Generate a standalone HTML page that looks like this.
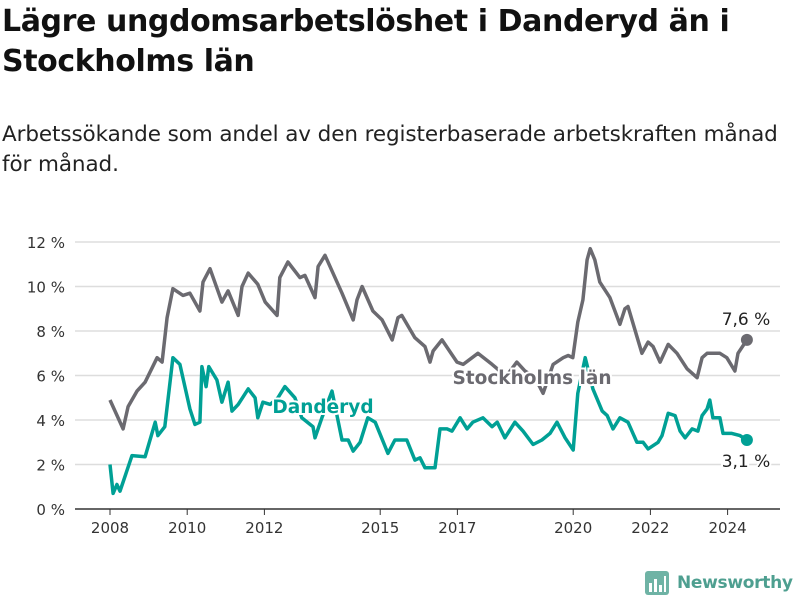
<!DOCTYPE html>
<html><head><meta charset="utf-8"><style>
body{margin:0;background:#fff;width:800px;height:600px;overflow:hidden;font-family:"Liberation Sans","DejaVu Sans",sans-serif;}
h1{position:absolute;left:2px;top:2px;margin:0;font-size:30px;line-height:40px;font-weight:bold;color:#111;font-family:"DejaVu Sans",sans-serif;letter-spacing:-0.4px;}
p{position:absolute;left:2px;top:120px;margin:0;font-size:21.5px;line-height:30px;color:#222;font-family:"DejaVu Sans",sans-serif;letter-spacing:-0.1px;}
svg{position:absolute;left:0;top:0}
</style></head><body>
<h1>Lägre ungdomsarbetslöshet i Danderyd än i<br>Stockholms län</h1>
<p>Arbetssökande som andel av den registerbaserade arbetskraften månad<br>för månad.</p>
<svg id="c" width="800" height="600"></svg>
<script>
const yTicks=[0,2,4,6,8,10,12];
const xTicks=[2008,2010,2012,2015,2017,2020,2022,2024];
const sthlmT=[2008,2008.34,2008.47,2008.70,2008.91,2009.22,2009.35,2009.48,2009.63,2009.89,2010.07,2010.33,2010.41,2010.59,2010.90,2011.06,2011.32,2011.42,2011.58,2011.83,2012.02,2012.33,2012.40,2012.61,2012.92,2013.05,2013.31,2013.39,2013.57,2014.01,2014.30,2014.40,2014.53,2014.81,2015.05,2015.31,2015.46,2015.56,2015.90,2016.16,2016.29,2016.37,2016.60,2016.99,2017.15,2017.53,2017.90,2018.10,2018.28,2018.54,2018.75,2019.01,2019.22,2019.48,2019.74,2019.87,2019.99,2020.12,2020.25,2020.36,2020.44,2020.56,2020.69,2020.95,2021.21,2021.34,2021.42,2021.78,2021.94,2022.07,2022.25,2022.46,2022.69,2022.95,2023.21,2023.34,2023.47,2023.80,2023.98,2024.19,2024.27,2024.50];
const sthlmV=[4.9,3.6,4.6,5.3,5.7,6.8,6.6,8.6,9.9,9.6,9.7,8.9,10.2,10.8,9.3,9.8,8.7,10.0,10.6,10.1,9.3,8.7,10.4,11.1,10.4,10.5,9.5,10.9,11.4,9.7,8.5,9.4,10.0,8.9,8.5,7.6,8.6,8.7,7.7,7.3,6.6,7.1,7.6,6.6,6.5,7.0,6.5,6.2,6.0,6.6,6.2,5.9,5.2,6.5,6.8,6.9,6.8,8.4,9.4,11.2,11.7,11.2,10.2,9.5,8.3,9.0,9.1,7.0,7.5,7.3,6.6,7.4,7.0,6.3,5.9,6.8,7.0,7.0,6.8,6.2,7.0,7.6];
const dandT=[2008,2008.08,2008.18,2008.26,2008.57,2008.91,2009.17,2009.24,2009.42,2009.63,2009.81,2010.07,2010.20,2010.33,2010.38,2010.49,2010.56,2010.77,2010.90,2011.06,2011.16,2011.32,2011.58,2011.76,2011.83,2011.96,2012.15,2012.35,2012.53,2012.79,2012.97,2013.26,2013.31,2013.49,2013.75,2014.01,2014.17,2014.30,2014.48,2014.68,2014.87,2014.99,2015.20,2015.38,2015.69,2015.90,2016.03,2016.16,2016.42,2016.55,2016.73,2016.86,2017.07,2017.25,2017.40,2017.66,2017.90,2018.03,2018.23,2018.49,2018.70,2018.96,2019.19,2019.40,2019.58,2019.79,2020.0,2020.12,2020.31,2020.51,2020.75,2020.88,2021.03,2021.21,2021.42,2021.65,2021.81,2021.94,2022.20,2022.30,2022.46,2022.64,2022.77,2022.90,2023.08,2023.23,2023.34,2023.47,2023.54,2023.62,2023.80,2023.88,2024.11,2024.32,2024.50];
const dandV=[2.0,0.7,1.1,0.8,2.4,2.35,3.9,3.3,3.7,6.8,6.5,4.5,3.8,3.9,6.4,5.5,6.4,5.8,4.8,5.7,4.4,4.7,5.4,5.0,4.1,4.8,4.7,5.0,5.5,5.0,4.1,3.7,3.2,4.1,5.3,3.1,3.1,2.6,3.0,4.1,3.9,3.4,2.5,3.1,3.1,2.2,2.3,1.85,1.85,3.6,3.6,3.5,4.1,3.6,3.9,4.1,3.7,3.9,3.2,3.9,3.5,2.9,3.1,3.4,3.9,3.2,2.65,5.2,6.8,5.4,4.4,4.2,3.6,4.1,3.9,3.0,3.0,2.7,3.0,3.3,4.3,4.2,3.5,3.2,3.6,3.5,4.2,4.5,4.9,4.1,4.1,3.4,3.4,3.3,3.1];
const NS='http://www.w3.org/2000/svg';
const svg=document.getElementById('c');
const X=t=>110+(t-2008)*38.6;
const Y=v=>509-v*22.25;
function mk(tag,attrs,parent){const e=document.createElementNS(NS,tag);for(const k in attrs)e.setAttribute(k,attrs[k]);(parent||svg).appendChild(e);return e;}
yTicks.forEach(v=>{
  if(v>0){const g=mk('line',{x1:75,x2:780,y1:Y(v),y2:Y(v),stroke:'#ddd','stroke-width':1.5});
  
  }
  const t=mk('text',{x:65,y:Y(v)+6,'text-anchor':'end','font-size':15,fill:'#333','font-family':'DejaVu Sans,sans-serif'});
  t.textContent=v+' %';
  
  
});
const ax=mk('line',{x1:75,x2:780,y1:509,y2:509,stroke:'#333','stroke-width':1.5});


xTicks.forEach(yr=>{
  const tk=mk('line',{x1:X(yr),x2:X(yr),y1:509,y2:515,stroke:'#333','stroke-width':1});
  
  
  const t=mk('text',{x:X(yr),y:533,'text-anchor':'middle','font-size':15,fill:'#333','font-family':'DejaVu Sans,sans-serif'});
  t.textContent=yr;
  
  
});
function line(ts,vs,color,name){
  const d=ts.map((t,i)=>(i?'L':'M')+X(t).toFixed(1)+','+Y(vs[i]).toFixed(1)).join('');
  const p=mk('path',{d:d,fill:'none',stroke:color,'stroke-width':3.5,'stroke-linejoin':'round'});
  
  
  const n=ts.length-1;
  const c=mk('circle',{cx:X(ts[n]),cy:Y(vs[n]),r:6,fill:color});
  
  
}
line(sthlmT,sthlmV,'#6b6a70','stockholm-line');
line(dandT,dandV,'#00a095','danderyd-line');
function lab(x,y,txt,col,w,name,size){
  const t=mk('text',{x:x,y:y,'text-anchor':'middle','font-size':size,'font-weight':w,fill:col,stroke:'#fff','stroke-width':4,'paint-order':'stroke','font-family':'DejaVu Sans,sans-serif'});
  t.textContent=txt;
  
  
}
lab(532,384,'Stockholms län','#6b6a70','bold','stockholm-label',18.5);
lab(323,413,'Danderyd','#00a095','bold','danderyd-label',18.5);
lab(746,325,'7,6 %','#222','normal','stockholm-end-value',17);
lab(746,467,'3,1 %','#222','normal','danderyd-end-value',17);
</script>
<div style="position:absolute;left:645px;top:570px;height:26px;display:flex;align-items:center;">
<svg width="24" height="24" style="position:static"><rect x="0" y="0" width="24" height="24" rx="3" fill="#6fb3a5"/><rect x="4" y="12" width="3" height="9" fill="#fff"/><rect x="9" y="8" width="3" height="13" fill="#fff"/><rect x="14" y="14" width="3" height="7" fill="#fff"/><rect x="19" y="5" width="2" height="16" fill="#fff"/></svg>
<span style="margin-left:8px;font-size:17px;font-weight:bold;color:#4e9f90;font-family:'DejaVu Sans',sans-serif;letter-spacing:-0.3px;">Newsworthy</span>
</div>
</body></html>
